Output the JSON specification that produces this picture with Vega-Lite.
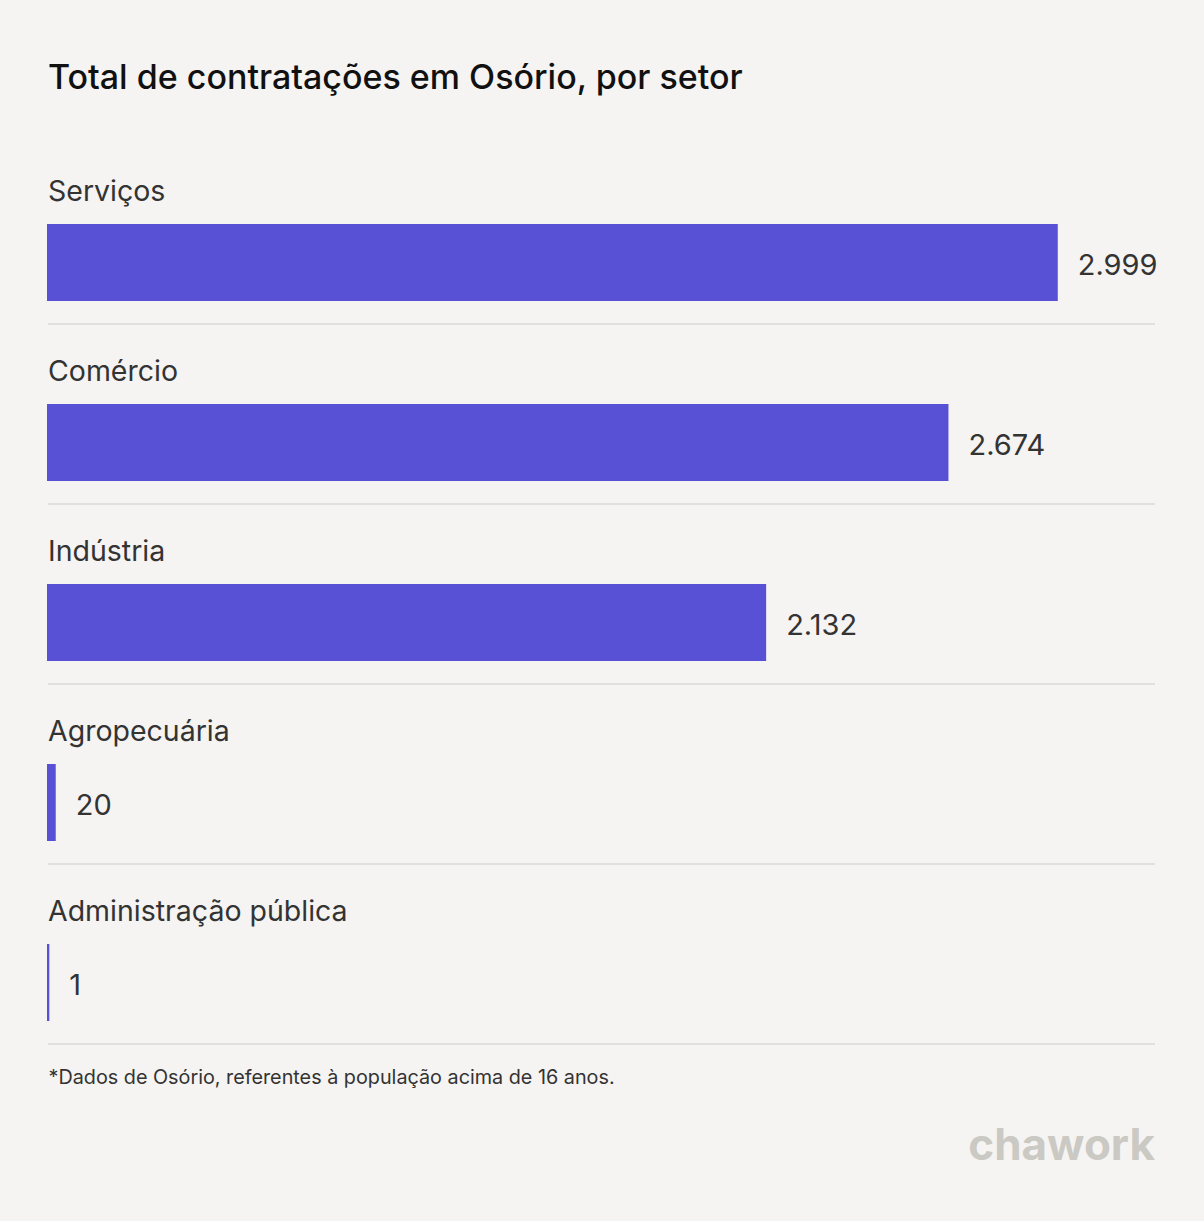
{
  "$schema": "https://vega.github.io/schema/vega-lite/v6.json",
  "autosize": "none",
  "width": 1107,
  "height": 900,
  "padding": {"left": 48, "top": 144, "right": 49, "bottom": 177},
  "background": "#f5f4f2",
  "config": {
    "view": {"stroke": null},
    "font": "Inter",
    "locale": {"number": {"decimal": ",", "thousands": ".", "grouping": [3], "currency": ["R$", ""]}}
  },
  "title": {
    "text": "Total de contratações em Osório, por setor",
    "anchor": "start",
    "frame": "group",
    "font": "Inter",
    "fontSize": 34,
    "fontWeight": 500,
    "color": "#111111",
    "offset": 48
  },
  "layer": [
    {
      "data": {
        "values": [
          {"setor": "Serviços", "total": 2999},
          {"setor": "Comércio", "total": 2674},
          {"setor": "Indústria", "total": 2132},
          {"setor": "Agropecuária", "total": 20},
          {"setor": "Administração pública", "total": 1}
        ]
      },
      "encoding": {
        "y": {
          "field": "setor",
          "type": "nominal",
          "sort": null,
          "scale": {"paddingInner": 0, "paddingOuter": 0},
          "axis": null
        }
      },
      "layer": [
        {
          "mark": {"type": "rule", "color": "#e2e0dd", "strokeWidth": 2, "yOffset": 90},
          "encoding": {
            "x": {"datum": 0, "type": "quantitative"},
            "x2": {"datum": 3291}
          }
        },
        {
          "mark": {"type": "bar", "color": "#5851d5", "stroke": "#5851d5", "strokeWidth": 2, "height": 75, "yOffset": 28.5},
          "encoding": {
            "x": {
              "field": "total",
              "type": "quantitative",
              "scale": {"domain": [0, 3291], "nice": false, "zero": true},
              "axis": {
                "domain": false,
                "ticks": false,
                "labels": false,
                "grid": false,
                "title": "*Dados de Osório, referentes à população acima de 16 anos.",
                "titleAnchor": "start",
                "titleAlign": "left",
                "titleFont": "Inter",
                "titleFontSize": 19.8,
                "titleFontWeight": "normal",
                "titleColor": "#333333",
                "titlePadding": 23
              }
            }
          }
        },
        {
          "mark": {"type": "text", "align": "left", "baseline": "middle", "dx": 21, "yOffset": 32, "fontSize": 29, "color": "#333333", "font": "Inter"},
          "encoding": {
            "x": {"field": "total", "type": "quantitative"},
            "text": {"field": "total", "type": "quantitative", "format": ",d"}
          }
        },
        {
          "mark": {"type": "text", "align": "left", "baseline": "middle", "yOffset": -42, "fontSize": 28.5, "color": "#333333", "font": "Inter"},
          "encoding": {
            "x": {"datum": 0, "type": "quantitative"},
            "text": {"field": "setor", "type": "nominal"}
          }
        }
      ]
    },
    {
      "data": {"values": [{"logo": "chawork"}]},
      "mark": {"type": "text", "align": "right", "baseline": "middle", "fontSize": 44, "fontWeight": "bold", "color": "#cbc9c3", "font": "Inter", "x": {"expr": "width"}, "y": {"expr": "height + 103"}},
      "encoding": {
        "text": {"field": "logo", "type": "nominal"}
      }
    }
  ]
}
